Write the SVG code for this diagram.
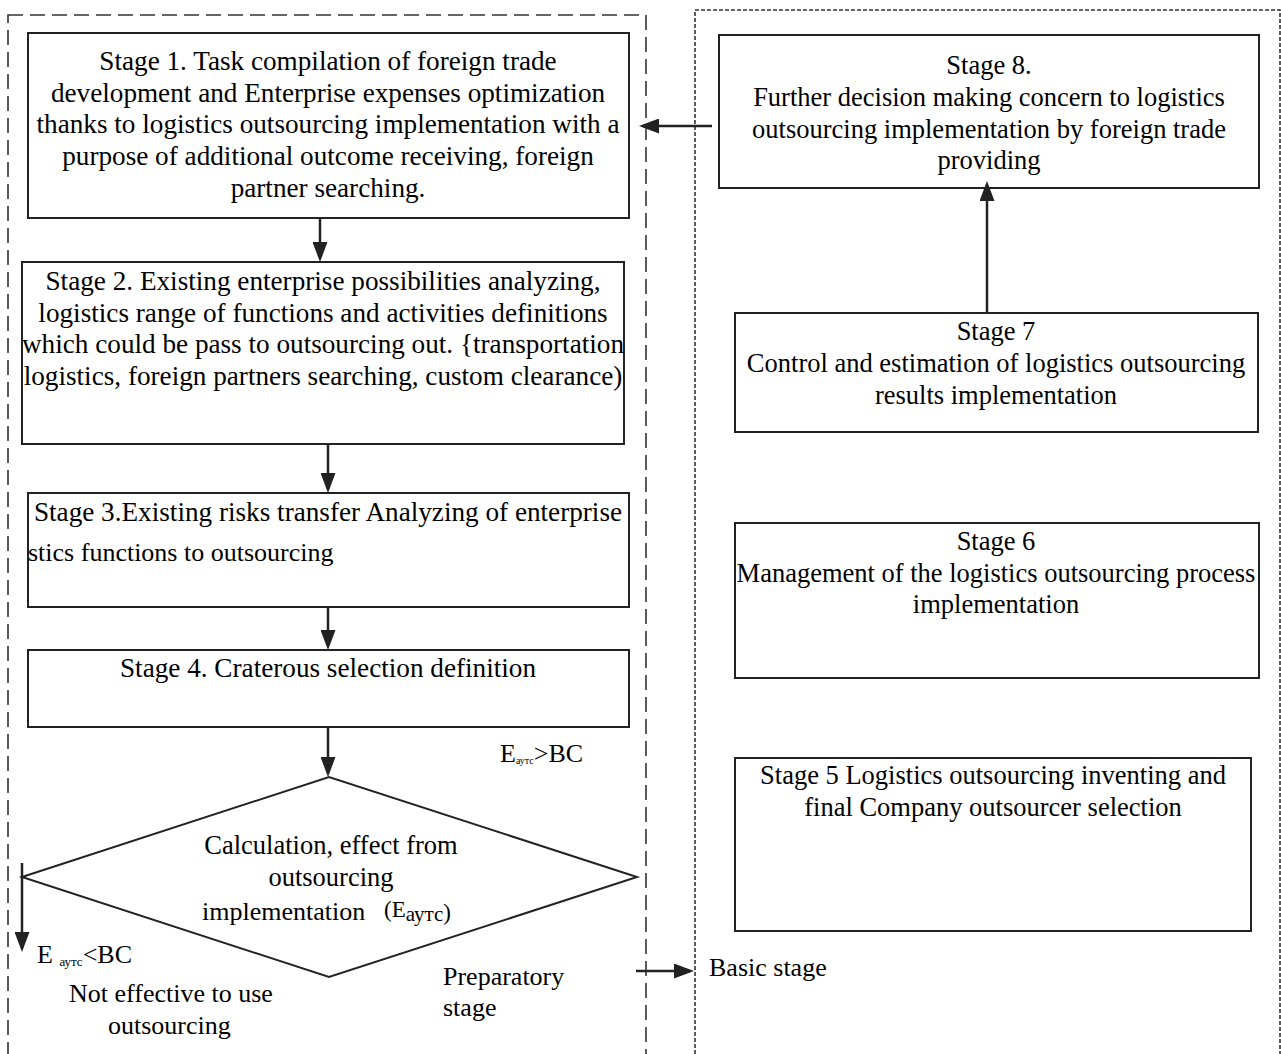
<svg xmlns="http://www.w3.org/2000/svg" width="1281" height="1054" viewBox="0 0 1281 1054">
<defs>
<style>
.box{fill:#fff;stroke:#222;stroke-width:2}
.t{font-family:"Liberation Serif","Times New Roman",serif;font-size:26.5px;fill:#000;text-anchor:middle}
.tl{font-size:27.2px}
.l{font-family:"Liberation Serif","Times New Roman",serif;font-size:26px;fill:#000}
.cn{stroke:#222;stroke-width:2.5;fill:none;marker-end:url(#ah)}
.frameL{fill:none;stroke:#333;stroke-width:1.6;stroke-dasharray:15 7}
.frameR{fill:none;stroke:#333;stroke-width:1.6;stroke-dasharray:4 2}
</style>
<marker id="ah" markerUnits="userSpaceOnUse" markerWidth="20" markerHeight="15" refX="16" refY="7.5" orient="auto">
<path d="M0,0 L20,7.5 L0,15 z" fill="#222"/>
</marker>
</defs>
<rect width="1281" height="1054" fill="#fff"/>

<g id="frames">
<rect class="frameL" x="8" y="15" width="638" height="1060"/>
<rect class="frameR" x="695" y="10" width="585" height="1065"/>
</g>

<g id="stage1">
<rect class="box" x="28" y="33" width="601" height="185"/>
<text class="t tl" x="328" y="70">Stage 1. Task compilation of foreign trade</text>
<text class="t tl" x="328" y="102">development and Enterprise expenses optimization</text>
<text class="t tl" x="328" y="133">thanks to logistics outsourcing implementation with a</text>
<text class="t tl" x="328" y="165">purpose of additional outcome receiving, foreign</text>
<text class="t tl" x="328" y="197">partner searching.</text>
</g>

<g id="stage2">
<rect class="box" x="22" y="262" width="602" height="182"/>
<text class="t tl" x="323" y="290">Stage 2. Existing enterprise possibilities analyzing,</text>
<text class="t tl" x="323" y="322">logistics range of functions and activities definitions</text>
<text class="t tl" x="323" y="353">which could be pass to outsourcing out. {transportation</text>
<text class="t tl" x="323" y="385">logistics, foreign partners searching, custom clearance)</text>
</g>

<g id="stage3">
<rect class="box" x="28" y="493" width="601" height="114"/>
<text class="t tl" x="328" y="521">Stage 3.Existing risks transfer Analyzing of enterprise</text>
<text class="l" x="28" y="561" font-size="27.2">stics functions to outsourcing</text>
</g>

<g id="stage4">
<rect class="box" x="28" y="650" width="601" height="77"/>
<text class="t tl" x="328" y="677">Stage 4. Craterous selection definition</text>
</g>

<g id="decision">
<polygon class="box" points="22,877 329,777 637,877 329,977"/>
<text class="t" x="331" y="854">Calculation, effect from</text>
<text class="t" x="331" y="886">outsourcing</text>
<text class="l" x="202" y="920">implementation <tspan x="384" dy="-3" font-size="23">(E</tspan><tspan font-size="21" dy="4">аутс</tspan><tspan font-size="23" dy="-1">)</tspan></text>
</g>

<g id="stage8">
<rect class="box" x="719" y="35" width="540" height="153"/>
<text class="t" x="989" y="74">Stage 8.</text>
<text class="t" x="989" y="106">Further decision making concern to logistics</text>
<text class="t" x="989" y="138">outsourcing implementation by foreign trade</text>
<text class="t" x="989" y="169">providing</text>
</g>

<g id="stage7">
<rect class="box" x="735" y="313" width="523" height="119"/>
<text class="t" x="996" y="340">Stage 7</text>
<text class="t" x="996" y="372">Control and estimation of logistics outsourcing</text>
<text class="t" x="996" y="404">results implementation</text>
</g>

<g id="stage6">
<rect class="box" x="735" y="523" width="524" height="155"/>
<text class="t" x="996" y="550">Stage 6</text>
<text class="t" x="996" y="582">Management of the logistics outsourcing process</text>
<text class="t" x="996" y="613">implementation</text>
</g>

<g id="stage5">
<rect class="box" x="735" y="758" width="516" height="173"/>
<text class="t" x="993" y="784">Stage 5 Logistics outsourcing inventing and</text>
<text class="t" x="993" y="816">final Company outsourcer selection</text>
</g>

<g id="labels">
<text class="l" x="500" y="762" font-size="18">E<tspan font-size="10" dy="2">аутс</tspan><tspan dy="-2">&gt;BC</tspan></text>
<text class="l" x="37" y="963" font-size="22">E <tspan font-size="13" dy="3">аутс</tspan><tspan dy="-3">&lt;BC</tspan></text>
<text class="l" x="69" y="1002">Not effective to use</text>
<text class="l" x="108" y="1034">outsourcing</text>
<text class="l" x="443" y="985">Preparatory</text>
<text class="l" x="443" y="1016">stage</text>
<text class="l" x="709" y="976">Basic stage</text>
</g>

<g id="connectors">
<line class="cn" x1="320" y1="218" x2="320" y2="258"/>
<line class="cn" x1="328" y1="444" x2="328" y2="489"/>
<line class="cn" x1="328" y1="607" x2="328" y2="646"/>
<line class="cn" x1="328" y1="727" x2="328" y2="773"/>
<line class="cn" x1="22" y1="863" x2="22" y2="948"/>
<line class="cn" x1="636" y1="971" x2="690" y2="971" stroke-width="3"/>
<line class="cn" x1="987" y1="313" x2="987" y2="185"/>
<line class="cn" x1="712" y1="126" x2="643" y2="126" stroke-width="3"/>
</g>
</svg>
